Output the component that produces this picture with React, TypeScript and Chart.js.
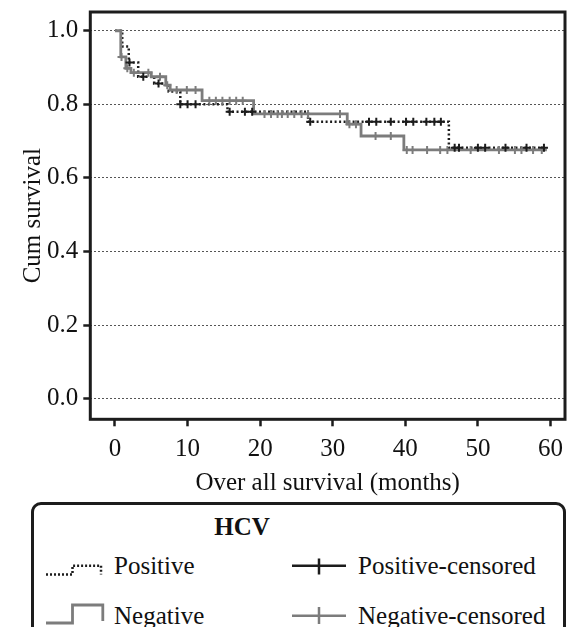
import React, { useEffect, useRef } from "react";
import { Chart, registerables } from "chart.js";

Chart.register(...registerables);

// ---- Data ----
// Kaplan-Meier steps: time (months) at which survival changes, and the new survival value
const positiveTimes = [0, 1.0, 1.9, 3.2, 5.4, 7.4, 9.0, 15.5, 26.6, 46.0, 59.3];
const positiveSurvival = [1.0, 0.957, 0.914, 0.875, 0.857, 0.835, 0.8, 0.78, 0.753, 0.682, 0.682];

const negativeTimes = [0, 0.8, 1.5, 2.2, 5.0, 7.0, 7.6, 12.0, 19.1, 32.0, 33.9, 39.8, 59.5];
const negativeSurvival = [1.0, 0.929, 0.898, 0.886, 0.875, 0.852, 0.839, 0.81, 0.774, 0.746, 0.714, 0.676, 0.676];

// Censoring times
const positiveCensored = [2.0, 3.9, 6.0, 9.0, 10.0, 11.1, 15.8, 17.9, 18.9, 26.9, 35.0, 36.0, 38.0, 40.1, 41.1, 42.9, 44.0, 44.9, 46.8, 47.4, 50.0, 51.0, 53.8, 56.7, 59.1];
const negativeCensored = [0.9, 1.7, 2.6, 4.6, 6.2, 7.2, 8.5, 9.9, 11.1, 13.0, 13.9, 14.8, 15.8, 16.7, 17.6, 20.6, 21.5, 22.4, 23.0, 23.8, 24.7, 25.7, 26.6, 31.0, 32.3, 33.2, 35.9, 38.0, 40.2, 41.0, 43.0, 44.8, 45.8, 49.0, 52.9, 55.1, 56.0, 57.6, 58.8];

const xTickValues = [0, 10, 20, 30, 40, 50, 60];
const yTickValues = [0, 0.2, 0.4, 0.6, 0.8, 1.0];

const BLACK = "#1c1c1c";
const GRAY = "#7c7c7c";
const FONT = '"Liberation Serif", "DejaVu Serif", "Times New Roman", serif';
const FS = 25;

const stepValue = (times: number[], surv: number[], t: number) => {
  let v = surv[0];
  for (let i = 0; i < times.length; i++) if (times[i] <= t) v = surv[i];
  return v;
};

const framePlugin = {
  id: "frame",
  afterDraw(chart: any) {
    const { ctx, chartArea } = chart;
    ctx.save();
    ctx.strokeStyle = BLACK;
    ctx.lineWidth = 3;
    ctx.strokeRect(chartArea.left, chartArea.top, chartArea.right - chartArea.left, chartArea.bottom - chartArea.top);
    ctx.restore();
  },
};

function KMChart() {
  const ref = useRef<HTMLCanvasElement | null>(null);
  useEffect(() => {
    if (!ref.current) return;
    const chart = new Chart(ref.current, {
      type: "line",
      data: {
        datasets: [
          {
            label: "Positive-censored",
            data: positiveCensored.map((t) => ({ x: t, y: stepValue(positiveTimes, positiveSurvival, t) })),
            showLine: false,
            pointStyle: "cross",
            pointRadius: 4,
            pointBorderWidth: 2,
            pointBorderColor: BLACK,
            pointBackgroundColor: BLACK,
            order: 0,
          } as any,
          {
            label: "Negative-censored",
            data: negativeCensored.map((t) => ({ x: t, y: stepValue(negativeTimes, negativeSurvival, t) })),
            showLine: false,
            pointStyle: "cross",
            pointRadius: 4,
            pointBorderWidth: 2,
            pointBorderColor: GRAY,
            pointBackgroundColor: GRAY,
            order: 1,
          } as any,
          {
            label: "Negative",
            data: negativeTimes.map((t, i) => ({ x: t, y: negativeSurvival[i] })),
            stepped: true,
            borderColor: GRAY,
            borderWidth: 2.8,
            pointRadius: 0,
            fill: false,
            order: 2,
          } as any,
          {
            label: "Positive",
            data: positiveTimes.map((t, i) => ({ x: t, y: positiveSurvival[i] })),
            stepped: true,
            borderColor: BLACK,
            borderWidth: 2.5,
            borderDash: [2, 2.5],
            pointRadius: 0,
            fill: false,
            order: 3,
          } as any,
        ],
      },
      options: {
        animation: false,
        responsive: true,
        maintainAspectRatio: false,
        layout: { padding: { left: 0, right: 5, top: 12, bottom: 0 } },
        plugins: { legend: { display: false }, tooltip: { enabled: false } },
        scales: {
          x: {
            type: "linear",
            min: -3.4,
            max: 62,
            afterFit: (s: any) => {
              s.height = 80.7;
              s.paddingLeft = 0;
              s.paddingRight = 0;
            },
            afterBuildTicks: (s: any) => {
              s.ticks = xTickValues.map((v) => ({ value: v }));
            },
            ticks: {
              includeBounds: false,
              stepSize: 10,
              padding: 8,
              color: "#111",
              font: { family: FONT, size: FS },
              maxRotation: 0,
            },
            grid: {
              drawOnChartArea: false,
              drawTicks: true,
              tickLength: 7,
              tickWidth: 2.5,
              tickColor: BLACK,
            },
            border: { display: false },
            title: {
              display: true,
              text: "Over all survival (months)",
              color: "#111",
              font: { family: FONT, size: FS },
              padding: { top: 0, bottom: 2 },
            },
          },
          y: {
            type: "linear",
            min: -0.056,
            max: 1.051,
            afterFit: (s: any) => {
              s.width = 90.3;
              s.paddingTop = 0;
              s.paddingBottom = 0;
            },
            afterBuildTicks: (s: any) => {
              s.ticks = yTickValues.map((v) => ({ value: v }));
            },
            ticks: {
              includeBounds: false,
              stepSize: 0.2,
              padding: 5,
              color: "#111",
              font: { family: FONT, size: FS },
              callback: (v: any) => Number(v).toFixed(1),
            },
            grid: {
              drawOnChartArea: true,
              drawTicks: true,
              tickLength: 7,
              tickWidth: 2.5,
              tickColor: BLACK,
              tickBorderDash: [],
              color: "#555",
              lineWidth: 1,
            },
            border: { display: false, dash: [2, 2] },
            title: {
              display: true,
              text: "Cum survival",
              color: "#111",
              font: { family: FONT, size: FS },
              padding: { top: 18, bottom: 0 },
            },
          },
        },
      } as any,
      plugins: [framePlugin],
    });
    return () => chart.destroy();
  }, []);
  return (
    <div style={{ position: "absolute", left: 0, top: 0, width: 571, height: 500 }}>
      <canvas ref={ref} />
    </div>
  );
}

const textStyle: React.CSSProperties = {
  position: "absolute",
  fontFamily: FONT,
  fontSize: FS,
  lineHeight: `${FS}px`,
  color: "#111",
  whiteSpace: "nowrap",
};

function Legend() {
  return (
    <>
      <div
        style={{
          position: "absolute",
          left: 31,
          top: 502,
          width: 535,
          height: 150,
          boxSizing: "border-box",
          border: `3px solid ${BLACK}`,
          borderRadius: 10,
        }}
      />
      <div style={{ ...textStyle, left: 242, top: 513.5, transform: "translateX(-50%)", fontWeight: "bold" }}>HCV</div>
      <svg style={{ position: "absolute", left: 44, top: 558 }} width={62} height={22}>
        <path d="M2,16.6 H28.5 V7.7 H57 V16.6" fill="none" stroke={BLACK} strokeWidth={2.5} strokeDasharray="2 2" />
      </svg>
      <div style={{ ...textStyle, left: 114, top: 552.5 }}>Positive</div>
      <svg style={{ position: "absolute", left: 44, top: 600 }} width={64} height={27}>
        <path d="M2,23 H28.5 V5 H58.8 V21" fill="none" stroke={GRAY} strokeWidth={2.8} />
      </svg>
      <div style={{ ...textStyle, left: 114, top: 603 }}>Negative</div>
      <svg style={{ position: "absolute", left: 290, top: 556 }} width={60} height={22}>
        <path d="M2,9.7 H56 M29,2.6 V18.6" fill="none" stroke={BLACK} strokeWidth={2.5} />
      </svg>
      <div style={{ ...textStyle, left: 358, top: 552.5 }}>Positive-censored</div>
      <svg style={{ position: "absolute", left: 290, top: 604 }} width={60} height={23}>
        <path d="M2,11.7 H56 M29,3 V20" fill="none" stroke={GRAY} strokeWidth={2.5} />
      </svg>
      <div style={{ ...textStyle, left: 358, top: 603 }}>Negative-censored</div>
    </>
  );
}

export default function App() {
  return (
    <div style={{ position: "absolute", left: 0, top: 0, width: 571, height: 627, overflow: "hidden", background: "#fff" }}>
      <KMChart />
      <Legend />
    </div>
  );
}
